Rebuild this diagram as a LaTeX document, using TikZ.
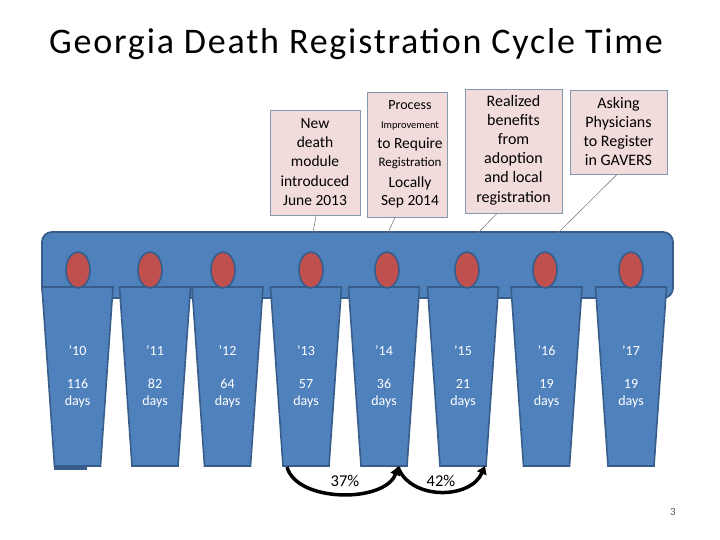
\documentclass[tikz,border=0pt]{standalone}
\usepackage{fontspec}
\setmainfont{Carlito}
\usetikzlibrary{arrows.meta}
\definecolor{cupblue}{HTML}{4F81BD}
\definecolor{cupline}{HTML}{385D8A}
\definecolor{dotred}{HTML}{C0504D}
\definecolor{boxfill}{HTML}{F2DCDB}
\definecolor{boxline}{HTML}{8497B0}
\definecolor{leader}{HTML}{808080}
\definecolor{pagegray}{HTML}{595959}
\newcommand\mkcup[4]{%
  \draw[cupstyle] (#1-35.5,287) -- (#1+35.5,287) -- (#1+23,466) -- (#1-23,466) -- cycle;
  \node[cuptext] (y#2) at (#1,351) {’#3};
  \node[cuptext] (d#2) at (#1,393.5) {#4\\days};
}
\begin{document}
\begin{tikzpicture}[x=1pt,y=-1pt,
  barstyle/.style={fill=cupblue,draw=cupline,line width=1.8pt,rounded corners=10pt},
  cupstyle/.style={fill=cupblue,draw=cupline,line width=1.6pt,line join=miter},
  dotstyle/.style={fill=dotred,draw=cupline,line width=1.6pt},
  cuptext/.style={text=white,font=\fontsize{14}{17}\selectfont,align=center,inner sep=0pt},
  callbox/.style={fill=boxfill,draw=boxline,line width=0.8pt,inner sep=0pt},
  boxtext/.style={font=\fontsize{15.5}{19.2}\selectfont,align=center,inner sep=0pt},
  leaderline/.style={draw=leader,line width=0.6pt},
  arcstyle/.style={draw=black,line width=3.5pt,-{Triangle[length=8pt,width=10pt]}},
  pct/.style={font=\fontsize{16.5}{19}\selectfont,inner sep=0pt}]
\useasboundingbox (0,0) rectangle (720,540);

\node[font=\fontsize{36}{42}\selectfont\addfontfeatures{LetterSpace=5},inner sep=0pt] (title) at (356,44) {Georgia Death Registration Cycle Time};

% bar
\draw[barstyle] (42,232) rectangle (673,298);

% cups
\mkcup{77.5}{10}{10}{116}
\mkcup{155}{11}{11}{82}
\mkcup{227.5}{12}{12}{64}
\mkcup{306}{13}{13}{57}
\mkcup{384}{14}{14}{36}
\mkcup{463}{15}{15}{21}
\mkcup{546.5}{16}{16}{19}
\mkcup{631}{17}{17}{19}
\fill[cupline] (54,466) rectangle (87,469.5);

% red dots
\foreach \x in {78,150,223,311,387,467,545,631}
  \draw[dotstyle] (\x,270) ellipse [x radius=12, y radius=18];

% callout boxes
\node[callbox,minimum width=90pt,minimum height=105pt] (b1) at (315,162.5) {};
\node[boxtext] (t1) at (315,162) {New\\death\\module\\introduced\\June 2013};

\node[callbox,minimum width=80pt,minimum height=125pt] (b2) at (407,154.5) {};
\node[inner sep=0pt,font=\fontsize{14}{16}\selectfont] (t2a) at (410,105) {Process};
\node[inner sep=0pt,font=\fontsize{10.5}{12}\selectfont] (t2b) at (410,126) {Improvement};
\node[inner sep=0pt,font=\fontsize{15.5}{18}\selectfont] (t2c) at (410,144) {to Require};
\node[inner sep=0pt,font=\fontsize{13}{15}\selectfont] (t2d) at (410,163.5) {Registration};
\node[inner sep=0pt,font=\fontsize{15.5}{18}\selectfont] (t2e) at (410,183) {Locally};
\node[inner sep=0pt,font=\fontsize{15.5}{18}\selectfont] (t2f) at (410,202) {Sep 2014};

\node[callbox,minimum width=97pt,minimum height=124pt] (b3) at (513.5,151) {};
\node[boxtext,font=\fontsize{16}{19.2}\selectfont] (t3) at (513.5,150) {Realized\\benefits\\from\\adoption\\and local\\registration};

\node[callbox,minimum width=97pt,minimum height=84pt] (b4) at (618.5,132) {};
\node[boxtext,font=\fontsize{16}{19}\selectfont] (t4) at (618.5,131.5) {Asking\\Physicians\\to Register\\in GAVERS};

% leader lines
\coordinate (p1) at (313,233);
\coordinate (p2) at (388,233);
\coordinate (p3) at (478,233);
\coordinate (p4) at (558,233);
\draw[leaderline] (b1.south -| 316,0) -- (p1);
\draw[leaderline] (b2.south -| 395,0) -- (p2);
\draw[leaderline] (b3.south -| 497,0) -- (p3);
\draw[leaderline] (b4.south -| 617,0) -- (p4);

% improvement arrows
\coordinate (a13) at (287,467);
\coordinate (a14) at (398,467);
\coordinate (a15) at (485,466);
\draw[arcstyle] (a13) .. controls (297,503) and (385,503) .. (a14);
\draw[arcstyle] (a14) .. controls (410,500) and (470,500) .. (a15);
\node[pct] (p37) at (345,481) {37\%};
\node[pct] (p42) at (441,481) {42\%};

\node[inner sep=0pt,text=pagegray,font=\fontsize{11}{13}\selectfont] (pg) at (673,512) {3};
\end{tikzpicture}
\end{document}
